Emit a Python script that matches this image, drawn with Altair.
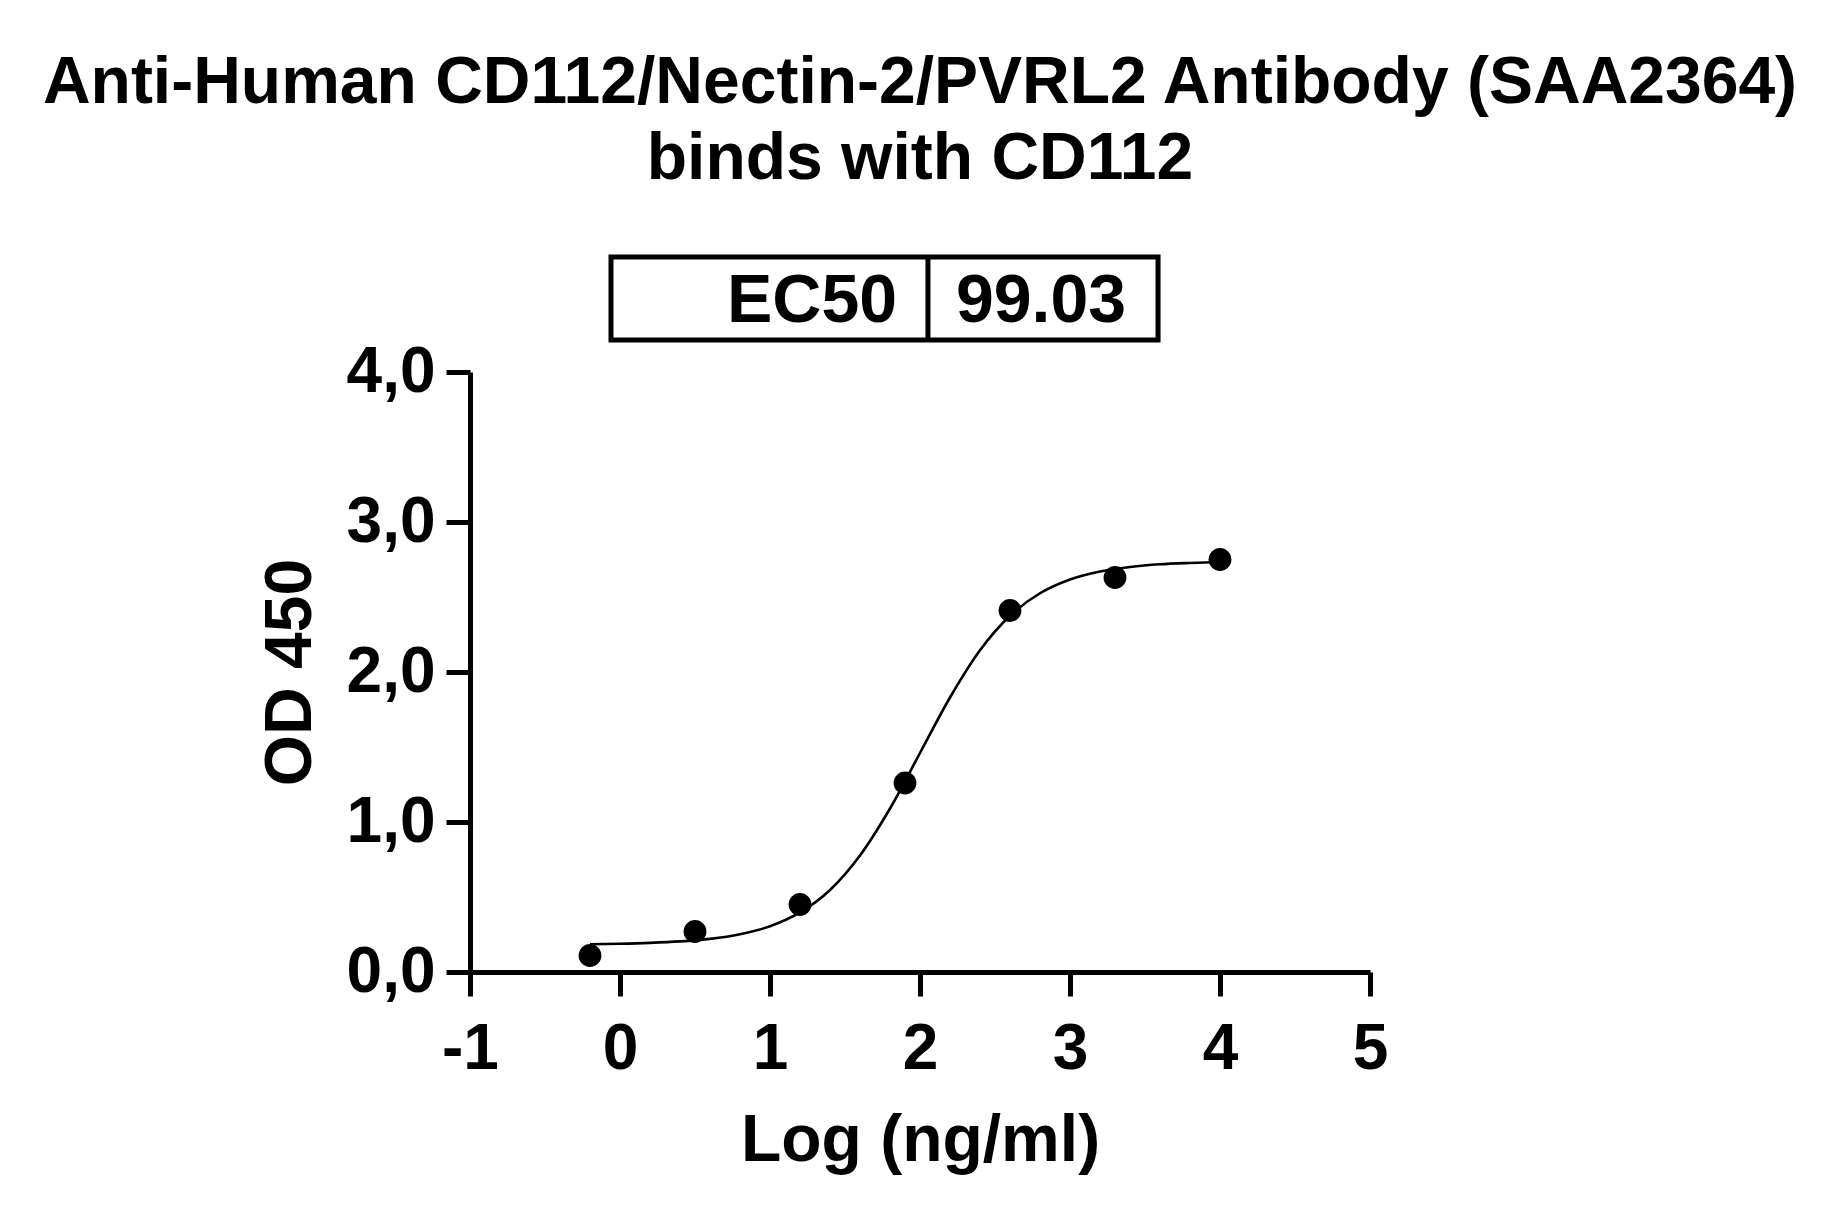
import altair as alt
import pandas as pd

# Measured points (Log concentration, OD 450)
log_conc = [-0.2, 0.5, 1.2, 1.9, 2.6, 3.3, 4.0]
od450 = [0.11, 0.27, 0.45, 1.26, 2.41, 2.63, 2.75]

# Fitted curve
curve_x = [-0.2, 0.0, 0.2, 0.4, 0.6, 0.8, 1.0, 1.2, 1.4, 1.6, 1.8, 2.0,
           2.2, 2.4, 2.6, 2.8, 3.0, 3.2, 3.4, 3.6, 3.8, 4.0]
curve_y = [0.185, 0.188, 0.194, 0.204, 0.221, 0.252, 0.305, 0.397, 0.547, 0.777,
           1.09, 1.46, 1.83, 2.145, 2.375, 2.525, 2.617, 2.67, 2.70, 2.718, 2.727, 2.733]

x_ticks = [-1, 0, 1, 2, 3, 4, 5]
y_ticks = [0, 1, 2, 3, 4]

# EC50 annotation table (in data units)
ec50_label = "EC50"
ec50_value = "99.03"
box_x = [-0.06, 3.587]
box_y = [4.213, 4.767]
divider_x = 2.053
label_x = 1.847
value_x = 2.807
text_y = 4.333

FONT = "Liberation Sans"

pts = pd.DataFrame({"x": log_conc, "y": od450})
crv = pd.DataFrame({"x": curve_x, "y": curve_y})

xs = alt.Scale(domain=[-1, 5], nice=False, zero=False)
ys = alt.Scale(domain=[0, 4], nice=False, zero=False)

x_axis = alt.Axis(values=x_ticks, labelExpr="'' + datum.value", title="Log (ng/ml)",
                  titleFontSize=66, titleFont=FONT, titleFontWeight="bold",
                  titleColor="black", titlePadding=27,
                  labelFontSize=64, labelFont=FONT, labelFontWeight="bold",
                  labelColor="black", labelPadding=21,
                  domainColor="black", domainWidth=5, tickColor="black",
                  tickWidth=5, tickSize=24, grid=False, labelFlush=False)
y_axis = alt.Axis(values=y_ticks, format=".1f",
                  labelExpr="replace(datum.label, '.', ',')",
                  title="OD 450",
                  titleFontSize=66, titleFont=FONT, titleFontWeight="bold",
                  titleColor="black", titlePadding=22,
                  labelFontSize=64, labelFont=FONT, labelFontWeight="bold",
                  labelColor="black", labelPadding=11,
                  domainColor="black", domainWidth=5, tickColor="black",
                  tickWidth=5, tickSize=24, grid=False, labelFlush=False)

line = alt.Chart(crv).mark_line(color="black", strokeWidth=2.6,
                                interpolate="monotone", clip=False).encode(
    x=alt.X("x:Q", scale=xs, axis=x_axis),
    y=alt.Y("y:Q", scale=ys, axis=y_axis),
)

dots = alt.Chart(pts).mark_circle(color="black", opacity=1, size=520).encode(
    x=alt.X("x:Q", scale=xs),
    y=alt.Y("y:Q", scale=ys),
)

box_df = pd.DataFrame({"x": [box_x[0]], "x2": [box_x[1]],
                       "y": [box_y[0]], "y2": [box_y[1]]})
box = alt.Chart(box_df).mark_rect(fill=None, stroke="black", strokeWidth=5,
                                  clip=False).encode(
    x=alt.X("x:Q", scale=xs), x2="x2:Q",
    y=alt.Y("y:Q", scale=ys), y2="y2:Q",
)

div_df = pd.DataFrame({"x": [divider_x], "y": [box_y[0]], "y2": [box_y[1]]})
divider = alt.Chart(div_df).mark_rule(color="black", strokeWidth=5,
                                      clip=False).encode(
    x=alt.X("x:Q", scale=xs),
    y=alt.Y("y:Q", scale=ys), y2="y2:Q",
)

lab_df = pd.DataFrame({"x": [label_x], "y": [text_y], "t": [ec50_label]})
lab = alt.Chart(lab_df).mark_text(align="right", baseline="alphabetic",
                                  font=FONT, fontWeight="bold", fontSize=68,
                                  color="black", clip=False).encode(
    x=alt.X("x:Q", scale=xs), y=alt.Y("y:Q", scale=ys), text="t:N")

val_df = pd.DataFrame({"x": [value_x], "y": [text_y], "t": [ec50_value]})
val = alt.Chart(val_df).mark_text(align="center", baseline="alphabetic",
                                  font=FONT, fontWeight="bold", fontSize=68,
                                  color="black", clip=False).encode(
    x=alt.X("x:Q", scale=xs), y=alt.Y("y:Q", scale=ys), text="t:N")

chart = alt.layer(line, dots, box, divider, lab, val).properties(
    width=900, height=600,
    title=alt.TitleParams(
        text=["Anti-Human CD112/Nectin-2/PVRL2 Antibody (SAA2364)",
              "binds with CD112"],
        font=FONT, fontSize=66, fontWeight="bold", color="black",
        lineHeight=76, anchor="middle", offset=61, frame="group"),
    autosize=alt.AutoSizeParams(type="none"),
    padding={"left": 462, "top": 364, "right": 450, "bottom": 230},
    background="white",
).configure_view(stroke=None)

chart.save("out.html", embed_options={"renderer": "svg", "actions": False})
